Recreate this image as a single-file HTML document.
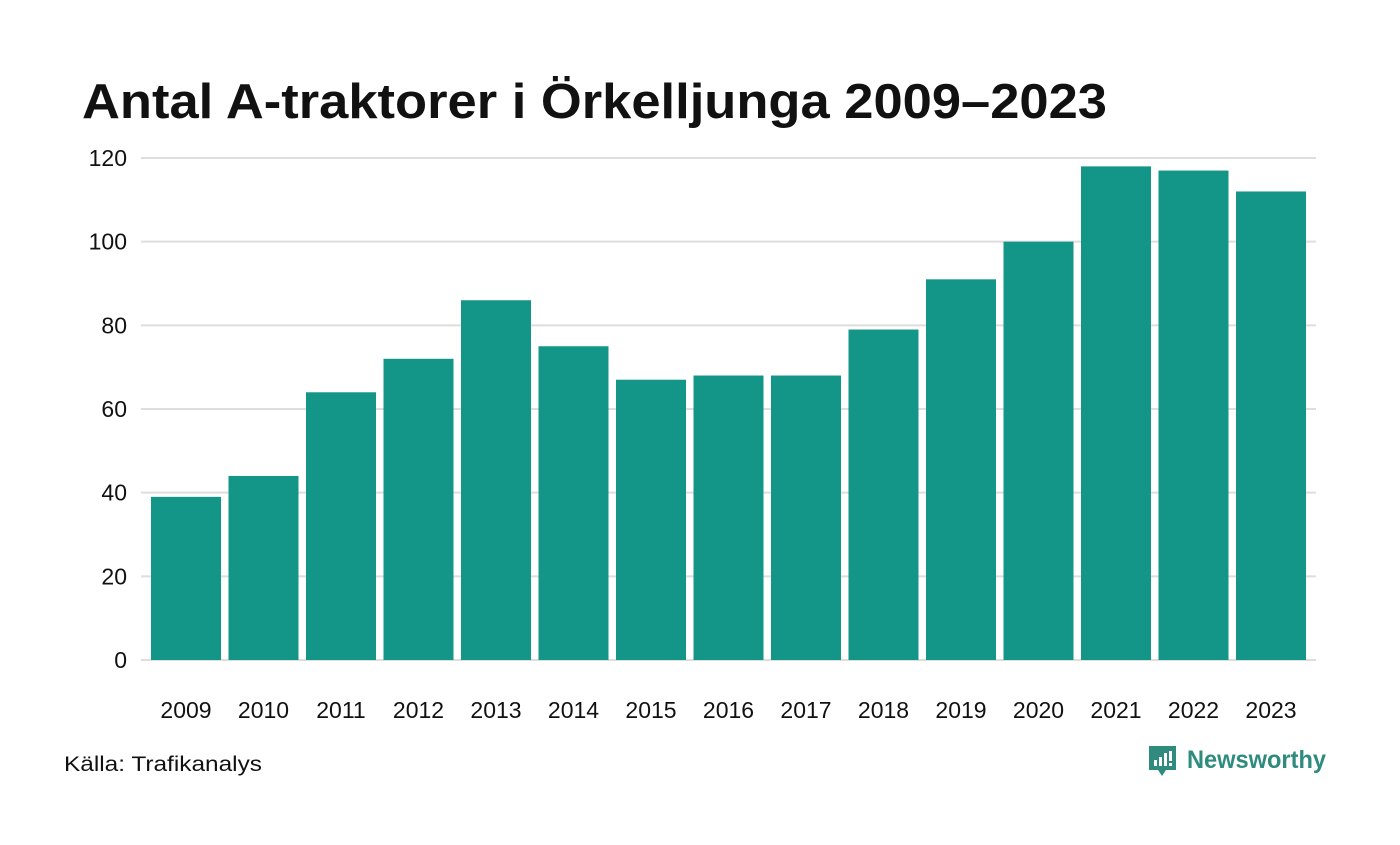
<!DOCTYPE html>
<html><head><meta charset="utf-8"><style>
body{margin:0;background:#fff;width:1400px;height:840px;overflow:hidden;font-family:"Liberation Sans",sans-serif}
</style></head><body>
<svg width="1400" height="840" xmlns="http://www.w3.org/2000/svg">
<text x="82" y="118" font-size="49" font-weight="bold" fill="#111" textLength="1025" lengthAdjust="spacingAndGlyphs" font-family="Liberation Sans, sans-serif">Antal A-traktorer i Örkelljunga 2009–2023</text>
<g id="grid"></g>
<g id="bars"></g>
<g id="xl"></g>
<text x="64" y="771" font-size="21" fill="#111" textLength="198" lengthAdjust="spacingAndGlyphs">Källa: Trafikanalys</text>
<g>
<path d="M1149 746h27v24h-10l-4 6l-4-6h-9z" fill="#2e8b7e"/>
<rect x="1154" y="760" width="3" height="6" fill="#fff"/><rect x="1159" y="757" width="3" height="9" fill="#fff"/><rect x="1164" y="753" width="3" height="13" fill="#fff"/><rect x="1169" y="751" width="3" height="10" fill="#fff"/><rect x="1169" y="763" width="3" height="3" fill="#fff"/>
<text x="1187" y="768" font-size="25" font-weight="bold" fill="#2e8b7e" textLength="139" lengthAdjust="spacingAndGlyphs">Newsworthy</text>
</g>
</svg>
<script>
const years=["2009","2010","2011","2012","2013","2014","2015","2016","2017","2018","2019","2020","2021","2022","2023"];
const values=[39,44,64,72,86,75,67,68,68,79,91,100,118,117,112];
const yTicks=[0,20,40,60,80,100,120];
const NS="http://www.w3.org/2000/svg";
const x0=147.25,band=77.5,bw=70,yBase=660,yTop=158,yMax=120;
function y(v){return yBase-(v/yMax)*(yBase-yTop);}
function x(i){return x0+i*band+(band-bw)/2;}
const grid=document.getElementById('grid'),bars=document.getElementById('bars'),xl=document.getElementById('xl');
yTicks.forEach(t=>{
 const l=document.createElementNS(NS,'line');
 l.setAttribute('x1',141);l.setAttribute('x2',1316);l.setAttribute('y1',y(t));l.setAttribute('y2',y(t));
 l.setAttribute('stroke','#dedede');l.setAttribute('stroke-width','2');
 
 
 grid.appendChild(l);
 const tx=document.createElementNS(NS,'text');
 tx.setAttribute('x',127);tx.setAttribute('y',y(t)+8);tx.setAttribute('text-anchor','end');
 tx.setAttribute('font-size','23');tx.setAttribute('fill','#111');tx.textContent=t;
 
 
 grid.appendChild(tx);
});
values.forEach((v,i)=>{
 const r=document.createElementNS(NS,'rect');
 r.setAttribute('x',x(i));r.setAttribute('width',bw);r.setAttribute('y',y(v));r.setAttribute('height',yBase-y(v));
 r.setAttribute('fill','#139588');
 
 
 bars.appendChild(r);
 const tx=document.createElementNS(NS,'text');
 tx.setAttribute('x',x(i)+bw/2);tx.setAttribute('y',718);tx.setAttribute('text-anchor','middle');
 tx.setAttribute('font-size','23');tx.setAttribute('fill','#111');tx.textContent=years[i];
 
 
 xl.appendChild(tx);
});
</script>
</body></html>
